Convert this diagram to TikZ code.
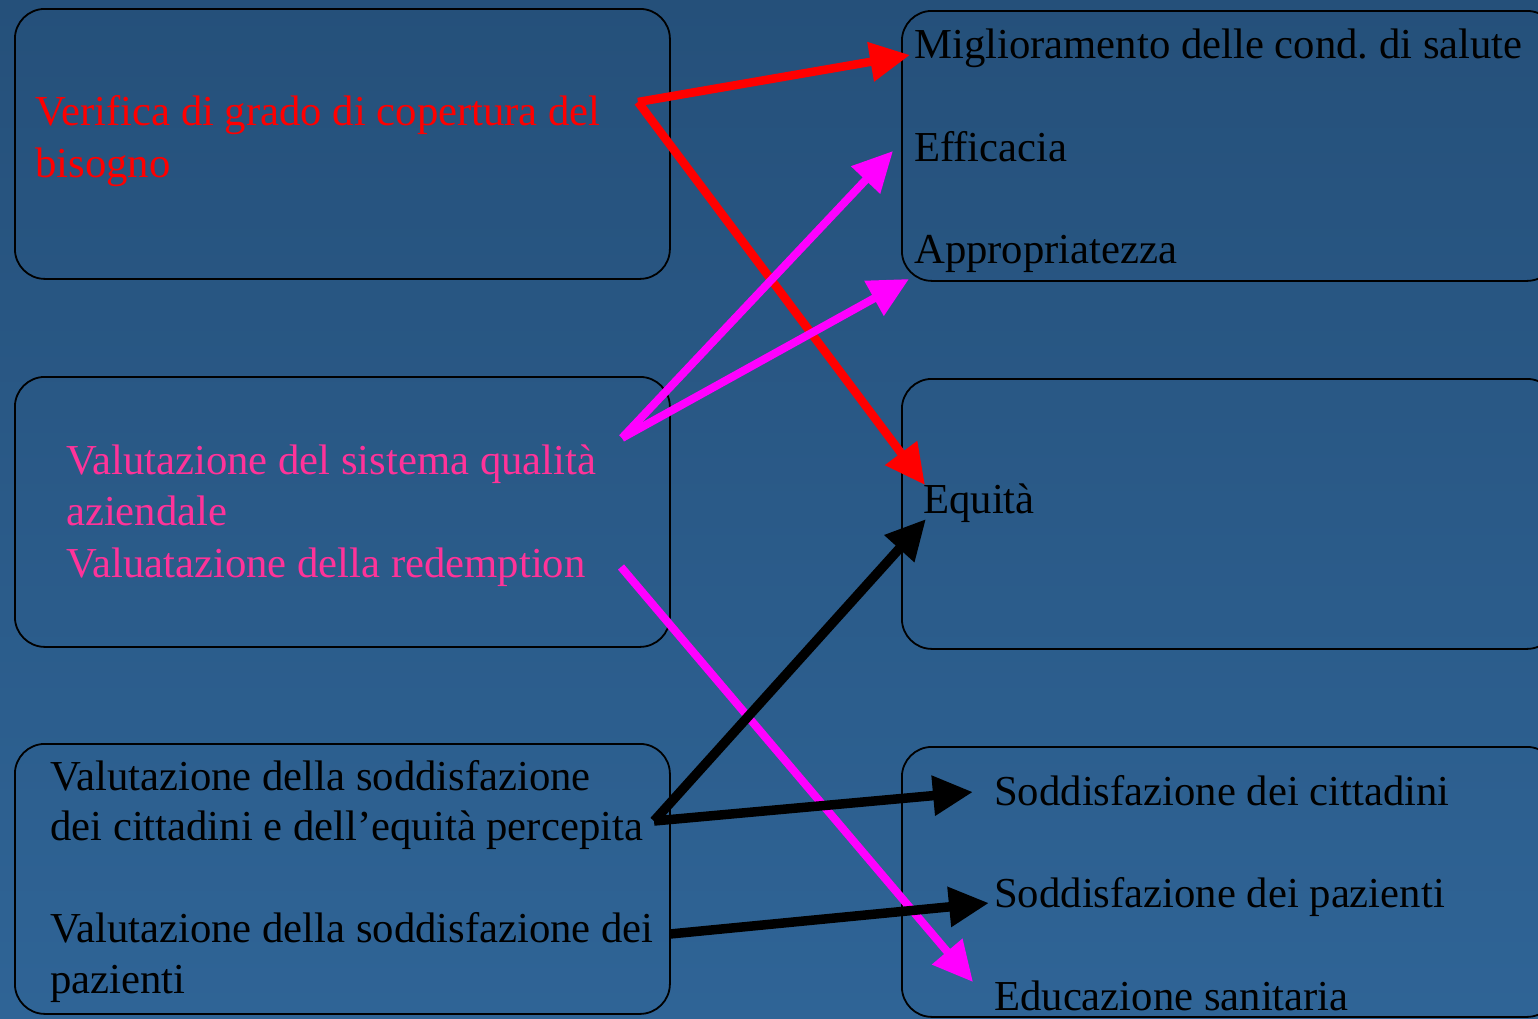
\documentclass[tikz,border=0pt]{standalone}
\usepackage{fontspec}
\setmainfont{Liberation Serif}
\usetikzlibrary{arrows.meta}
\definecolor{bgtop}{RGB}{37,80,122}
\definecolor{bgbot}{RGB}{47,100,150}
\definecolor{pinktxt}{RGB}{255,51,153}
\definecolor{magline}{RGB}{255,0,255}
\definecolor{redline}{RGB}{255,0,0}
\tikzset{
  box/.style={draw=black, line width=1.8pt, rounded corners=30pt, minimum width=655pt, minimum height=270pt, anchor=north west, inner sep=0pt},
  txt/.style={anchor=base west, inner sep=0pt, font=\fontsize{42.7}{51}\selectfont},
  conn/.style={line width=8pt, -{Triangle[length=40pt,width=38pt]}},
  redconn/.style={conn, draw=redline, fill=redline, line width=8.5pt},
  magconn/.style={conn, draw=magline, fill=magline, line width=8pt},
  blkconn/.style={conn, draw=black, fill=black, line width=9.5pt},
}
\frenchspacing
\begin{document}
\begin{tikzpicture}[x=1pt,y=-1pt]
\useasboundingbox (0,0) rectangle (1538,1018);
\shade[top color=bgtop, bottom color=bgbot] (0,0) rectangle (1538,1018);
\begin{scope}
\clip (0,0) rectangle (1538,1018);
% boxes
\node[box] (b1) at (14,8) {};
\node[box] (b2) at (14,376) {};
\node[box] (b3) at (14,743) {};
\node[box] (b4) at (901,10) {};
\node[box] (b5) at (901,378) {};
\node[box] (b6) at (901,746) {};
% left texts
\node[txt, text=redline] (t1a) at (35,125) {Verifica di grado di copertura del};
\node[txt, text=redline] (t1b) at (35,177) {bisogno};
\node[txt, text=pinktxt] (t2a) at (66,474) {Valutazione del sistema qualità};
\node[txt, text=pinktxt] (t2b) at (66,525) {aziendale};
\node[txt, text=pinktxt] (t2c) at (66,577) {Valuatazione della redemption};
\node[txt] (t3a) at (50,790) {Valutazione della soddisfazione};
\node[txt] (t3b) at (50,840) {dei cittadini e dell’equità percepita};
\node[txt] (t3c) at (50,942) {Valutazione della soddisfazione dei};
\node[txt] (t3d) at (50,993) {pazienti};
% right texts
\node[txt] (r1) at (914,58) {Miglioramento delle cond. di salute};
\node[txt] (r2) at (914,161) {Efficacia};
\node[txt] (r3) at (914,263) {Appropriatezza};
\node[txt] (r4) at (923,513) {Equità};
\node[txt] (r5) at (994,805) {Soddisfazione dei cittadini};
\node[txt] (r6) at (994,907) {Soddisfazione dei pazienti};
\node[txt] (r7) at (994,1010) {Educazione sanitaria};
% connector points
\coordinate (sred) at (638,102);
\coordinate (smag) at (622,438);
\coordinate (smag2) at (621,567);
\coordinate (sblk) at (654,821);
\coordinate (sblk2) at (670,934);
\coordinate (eMig) at (910,55);
\coordinate (eEqR) at (925,485);
\coordinate (eEff) at (893,151);
\coordinate (eApp) at (909,279);
\coordinate (eEdu) at (973,982);
\coordinate (eEqB) at (926,519);
\coordinate (eCit) at (973,792);
\coordinate (ePaz) at (989,903);
% connectors
\draw[redconn] (sred) -- (eMig);
\draw[redconn] (sred) -- (eEqR);
\draw[magconn] (smag) -- (eEff);
\draw[magconn] (smag) -- (eApp);
\draw[magconn] (smag2) -- (eEdu);
\draw[blkconn] (sblk) -- (eEqB);
\draw[blkconn] (sblk) -- (eCit);
\draw[blkconn] (sblk2) -- (ePaz);
\end{scope}
\end{tikzpicture}
\end{document}
